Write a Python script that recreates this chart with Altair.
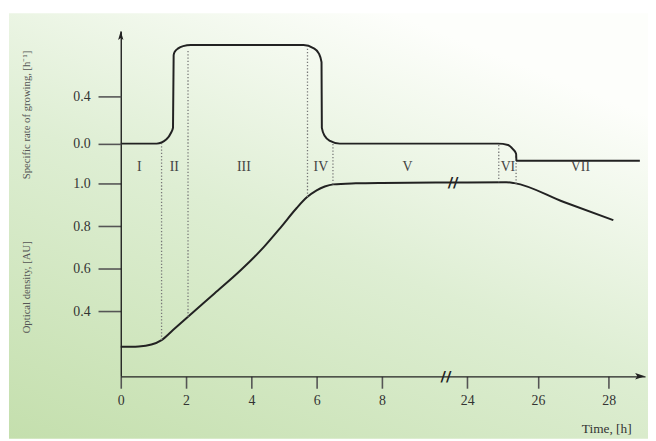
import altair as alt
import pandas as pd

# ---------------- data ----------------
# specific growth rate curve (hours, h^-1)
rate_t = [0, 1.1, 1.4, 1.54, 1.6, 1.62, 1.65, 1.76, 1.91, 2.15, 5.6, 5.9, 6.07, 6.15,
          6.16, 6.25, 6.41, 6.71, 8, 24, 24.87, 25.15, 25.29, 25.38, 25.39, 25.45, 28.88]
rate_v = [0, 0, 0.037, 0.092, 0.134, 0.75, 0.777, 0.807, 0.826, 0.835, 0.835, 0.81, 0.763, 0.69,
          0.134, 0.064, 0.023, 0, 0, 0, 0, -0.011, -0.047, -0.086, -0.145, -0.145, -0.145]
# optical density curve (hours, AU)
od_t = [0, 0.55, 0.94, 1.25, 1.6, 2.06, 2.87, 3.68, 4.38, 4.89, 5.39, 5.70, 6.0, 6.25,
        6.51, 7.2, 8, 24, 25.1, 25.33, 26.73, 28.13]
od_v = [0.233, 0.235, 0.244, 0.265, 0.312, 0.375, 0.484, 0.594, 0.702, 0.793, 0.886, 0.936, 0.969,
        0.987, 0.997, 1.002, 1.004, 1.006, 1.007, 1.003, 0.914, 0.829]
# phase boundaries (dotted lines)
phase_t = [1.25, 2.06, 5.72, 6.5, 24.89, 25.38]
phase_rate_top = [0.0, 0.794, 0.819, 0.0, 0.0, -0.103]
phase_od_bottom = [0.265, 0.375, 0.938, 0.997, 1.007, 1.0]
# phase names and their positions along the (broken) axis
phase_names = ["I", "II", "III", "IV", "V", "VI", "VII"]
phase_label_pos = [0.57, 1.64, 3.77, 6.13, 8.78, 11.86, 14.08]
# ticks
x_tick_hours = [0, 2, 4, 6, 8, 24, 26, 28]
od_ticks = [0.4, 0.6, 0.8, 1.0]
rate_ticks = [0.0, 0.4]
# axis-break marks (axis position, OD value)
break_pos = [9.96, 10.18]
break_od = [0.0944, 1.006]

# ---------------- axis geometry ----------------
POS_24 = 10.615      # axis position of 24 h
STRETCH = 1.0833     # scale after the break
X_MAX = 16.06
OD_DOMAIN = [0.0944, 1.7177]
RATE_DOMAIN = [-1.9723, 0.9535]
LABEL_RATE = -0.2

POS_EXPR = f"datum.t <= 12 ? datum.t : {POS_24} + (datum.t - 24) * {STRETCH}"


def to_pos(t):
    return t if t <= 12 else POS_24 + (t - 24) * STRETCH


x_tick_pos = [round(to_pos(t), 4) for t in x_tick_hours]

FONT = "Liberation Serif"
INK = "#222222"

x_scale = alt.Scale(domain=[0, X_MAX], nice=False, zero=False)
od_scale = alt.Scale(domain=OD_DOMAIN, nice=False, zero=False)
rate_scale = alt.Scale(domain=RATE_DOMAIN, nice=False, zero=False)

x_axis = alt.Axis(
    values=x_tick_pos,
    labelExpr=f"datum.value < 9 ? format(datum.value, 'd') : format(round(24 + (datum.value - {POS_24}) / {STRETCH}), 'd')",
    title="Time, [h]", titleX=516, titleY=53, titleAlign="right", titleBaseline="middle",
    titleFont=FONT, titleFontSize=13.5, titleFontWeight="normal", titleColor="#333333",
    labelFont=FONT, labelFontSize=14, labelColor="#333333", labelPadding=5,
    tickSize=12, tickColor="#555555", tickWidth=1.6,
    domainColor=INK, domainWidth=1.4, grid=False, zindex=1, labelFlush=False,
)
od_axis = alt.Axis(
    values=od_ticks, format=".1f", orient="left",
    title="Optical density, [AU]", titleX=-95, titleY=258.5, titleAngle=270,
    titleAlign="center", titleBaseline="middle",
    titleFont=FONT, titleFontSize=10.8, titleFontWeight="normal", titleColor="#555555",
    labelFont=FONT, labelFontSize=14, labelColor="#333333", labelPadding=8,
    tickSize=23, tickColor="#555555", tickWidth=1.6,
    domainColor=INK, domainWidth=1.4, grid=False, zindex=1,
)
rate_axis = alt.Axis(
    values=rate_ticks, format=".1f", orient="left",
    title="Specific rate of growing, [h⁻¹]", titleX=-95, titleY=84.3, titleAngle=270,
    titleAlign="center", titleBaseline="middle",
    titleFont=FONT, titleFontSize=10.8, titleFontWeight="normal", titleColor="#555555",
    labelFont=FONT, labelFontSize=14, labelColor="#333333", labelPadding=8,
    tickSize=23, tickColor="#555555", tickWidth=1.6,
    domain=False, grid=False, zindex=1,
)

X = alt.X("pos:Q", scale=x_scale, axis=x_axis)

# ---------------- background ----------------
grad = alt.LinearGradient(
    gradient="linear", x1=0, y1=1, x2=0.6, y2=0,
    stops=[alt.GradientStop(offset=0, color="#c4dfad"),
           alt.GradientStop(offset=0.55, color="#deeed3"),
           alt.GradientStop(offset=1, color="#fdfefb")],
)
bg = alt.Chart(pd.DataFrame({"a": [0]})).mark_rect(fill=grad, strokeWidth=0).encode(
    x=alt.value(-113), x2=alt.value(534), y=alt.value(-18), y2=alt.value(412)
)

# ---------------- OD group ----------------
od_df = pd.DataFrame({"t": od_t, "od": od_v})
od_line = alt.Chart(od_df).transform_calculate(pos=POS_EXPR).mark_line(
    interpolate="monotone", color=INK, strokeWidth=2
).encode(x=X, y=alt.Y("od:Q", scale=od_scale, axis=od_axis))

phase_df = pd.DataFrame({"t": phase_t, "rate_top": phase_rate_top, "od_bottom": phase_od_bottom})
R0, R1 = RATE_DOMAIN
O0, O1 = OD_DOMAIN
rules = alt.Chart(phase_df).transform_calculate(
    pos=POS_EXPR,
    od_top=f"{O0} + (datum.rate_top - ({R0})) / ({R1} - ({R0})) * ({O1} - {O0})",
).mark_rule(color="#777777", strokeWidth=1.3, strokeDash=[1.3, 2]).encode(
    x=X, y=alt.Y("od_bottom:Q", scale=od_scale, axis=od_axis), y2="od_top:Q"
)

brk_df = pd.DataFrame({"pos": break_pos, "od": break_od})
breaks = alt.Chart(brk_df).mark_text(
    text="//", font="DejaVu Sans", fontSize=15, fontWeight="bold", color=INK,
    baseline="middle", align="center"
).encode(x=X, y=alt.Y("od:Q", scale=od_scale, axis=od_axis))

arrow_up = alt.Chart(pd.DataFrame({"pos": [0], "od": [OD_DOMAIN[1]]})).mark_point(
    shape="M0,0L-0.3,1L0,0.78L0.3,1Z", filled=True, size=324, color=INK, opacity=1
).encode(x=X, y=alt.Y("od:Q", scale=od_scale, axis=od_axis))
arrow_right = alt.Chart(pd.DataFrame({"pos": [X_MAX], "od": [OD_DOMAIN[0]]})).mark_point(
    shape="M0,0L-1,-0.33L-0.78,0L-1,0.33Z", filled=True, size=400, color=INK, opacity=1
).encode(x=X, y=alt.Y("od:Q", scale=od_scale, axis=od_axis))

od_group = alt.layer(od_line, rules, breaks, arrow_up, arrow_right)

# ---------------- rate group ----------------
rate_df = pd.DataFrame({"t": rate_t, "rate": rate_v})
rate_line = alt.Chart(rate_df).transform_calculate(pos=POS_EXPR).mark_line(
    interpolate="monotone", color=INK, strokeWidth=2
).encode(x=X, y=alt.Y("rate:Q", scale=rate_scale, axis=rate_axis))

names_df = pd.DataFrame({"pos": phase_label_pos, "name": phase_names, "rate": [LABEL_RATE] * 7})
names = alt.Chart(names_df).mark_text(
    font=FONT, fontSize=14, color="#444444", baseline="middle", align="center"
).encode(x=X, y=alt.Y("rate:Q", scale=rate_scale, axis=rate_axis), text="name:N")

rate_group = alt.layer(rate_line, names)

chart = alt.layer(bg, od_group, rate_group).resolve_scale(y="independent").properties(
    width=530, height=349,
    autosize=alt.AutoSizeParams(type="none"),
    padding={"left": 114, "top": 21, "right": 3, "bottom": 63},
).configure_view(stroke=None)

chart.save("out.html", embed_options={"renderer": "svg", "actions": False})
